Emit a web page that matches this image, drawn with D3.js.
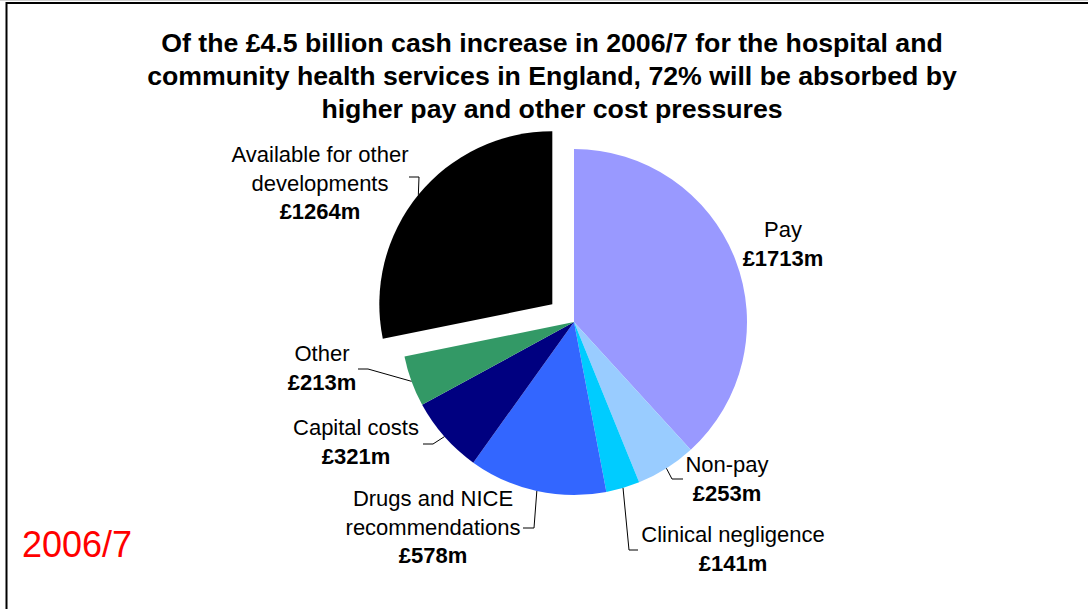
<!DOCTYPE html>
<html>
<head>
<meta charset="utf-8">
<script src="https://cdn.jsdelivr.net/npm/d3@7"></script>
<style>
  body { margin: 0; background: #fff; }
  text { font-family: "Liberation Sans", Arial, sans-serif; }
</style>
</head>
<body>
<div id="chart-area"></div>
<script>
const WIDTH = 1088
const HEIGHT = 609

// data
const categories = ["Pay", "Non-pay", "Clinical negligence", "Drugs and NICE recommendations",
  "Capital costs", "Other", "Available for other developments"]
const values = [1713, 253, 141, 578, 321, 213, 1264]
const valueLabels = ["£1713m", "£253m", "£141m", "£578m", "£321m", "£213m", "£1264m"]
const labelLines = [["Pay"], ["Non-pay"], ["Clinical negligence"], ["Drugs and NICE", "recommendations"],
  ["Capital costs"], ["Other"], ["Available for other", "developments"]]
const colors = ["#9999FF", "#99CCFF", "#00CCFF", "#3366FF", "#000080", "#339966", "#000000"]
const titleLines = [
  "Of the £4.5 billion cash increase in 2006/7 for the hospital and",
  "community health services in England, 72% will be absorbed by",
  "higher pay and other cost pressures"
]

// layout
const CX = 574, CY = 322, R = 173
const EXPLODE = [0, 0, 0, 0, 0, 0, 28]
const LINE_H = 28.5
// label block: centre x, first baseline
const labelPos = [[783, 237], [727, 472], [733, 542], [433, 506], [356, 435], [322, 361], [320, 162]]
// leader: end at label [x, y], elbow dx
const leaders = [null, [683, 479, -11], [638, 550, -9], [523, 528, 11], [423, 444, 10], [358, 369, 10], [409, 177, 10]]

const svg = d3.select("#chart-area").append("svg")
  .attr("width", WIDTH)
  .attr("height", HEIGHT)

// frame
svg.append("line").attr("x1", 0).attr("x2", WIDTH).attr("y1", 0.5).attr("y2", 0.5)
  .attr("stroke", "#d0d0d0").attr("stroke-width", 1)
svg.append("path")
  .attr("d", `M${WIDTH},3 H6.5 V${HEIGHT}`)
  .attr("fill", "none").attr("stroke", "#000").attr("stroke-width", 2)

// title
svg.append("g").selectAll("text")
  .data(titleLines)
  .enter().append("text")
    .attr("x", 552)
    .attr("y", (d, i) => 52 + i * 33)
    .attr("text-anchor", "middle")
    .attr("font-size", "26.7px")
    .attr("font-weight", "bold")
    .text(d => d)

const pie = d3.pie().sort(null).value(d => d)
const arcs = pie(values)
const arc = d3.arc().innerRadius(0).outerRadius(R)

const mid = d => (d.startAngle + d.endAngle) / 2
const shift = (d, i) => [Math.sin(mid(d)) * EXPLODE[i], -Math.cos(mid(d)) * EXPLODE[i]]

const g = svg.append("g")
  .attr("transform", `translate(${CX}, ${CY})`)

g.selectAll("path.slice")
  .data(arcs)
  .enter().append("path")
    .attr("class", "slice")
    .attr("transform", (d, i) => `translate(${shift(d, i)})`)
    .attr("d", arc)
    .attr("fill", (d, i) => colors[i])

// leader lines
g.selectAll("path.leader")
  .data(arcs.filter((d, i) => leaders[i]))
  .enter().append("path")
    .attr("class", "leader")
    .attr("fill", "none")
    .attr("stroke", "#000")
    .attr("stroke-width", 1)
    .attr("d", d => {
      const i = d.index
      const [sx, sy] = shift(d, i)
      const px = sx + Math.sin(mid(d)) * R
      const py = sy - Math.cos(mid(d)) * R
      const [ex, ey, dx] = leaders[i]
      return `M${px},${py} L${ex - CX + dx},${ey - CY} L${ex - CX},${ey - CY}`
    })

// labels
const labels = svg.append("g").selectAll("text")
  .data(arcs)
  .enter().append("text")
    .attr("text-anchor", "middle")
    .attr("font-size", "22px")

labels.each(function (d, i) {
  const t = d3.select(this)
  const [x, y] = labelPos[i]
  labelLines[i].forEach((line, j) => {
    t.append("tspan").attr("x", x).attr("y", y + j * LINE_H).text(line)
  })
  t.append("tspan").attr("x", x).attr("y", y + labelLines[i].length * LINE_H)
    .attr("font-weight", "bold").text(valueLabels[i])
})

svg.append("text")
  .attr("x", 22)
  .attr("y", 557)
  .attr("font-size", "36px")
  .attr("fill", "#FF0000")
  .text("2006/7")
</script>
</body>
</html>
